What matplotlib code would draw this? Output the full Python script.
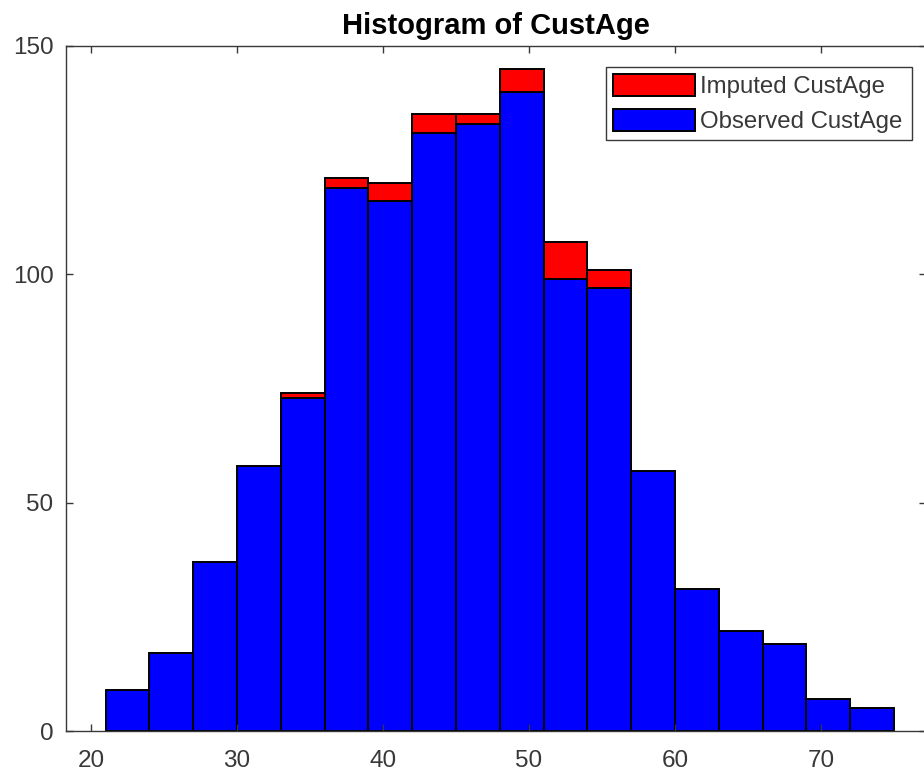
import matplotlib
matplotlib.use("Agg")
import matplotlib.pyplot as plt
from matplotlib.patches import Patch
import numpy as np

bin_edges = [21, 24, 27, 30, 33, 36, 39, 42, 45, 48, 51, 54, 57, 60, 63, 66, 69, 72, 75]
observed = [9, 17, 37, 58, 73, 119, 116, 131, 133, 140, 99, 97, 57, 31, 22, 19, 7, 5]
imputed = [0, 0, 0, 0, 1, 2, 4, 4, 2, 5, 8, 4, 0, 0, 0, 0, 0, 0]
xticks = [20, 30, 40, 50, 60, 70]
yticks = [0, 50, 100, 150]

plt.rcParams['font.family'] = ['Liberation Sans', 'DejaVu Sans']

fig = plt.figure(figsize=(9.24, 7.76), dpi=100)
W, H = 924, 776
ax_l, ax_r, ax_t, ax_b = 66, 926, 46, 731
ax = fig.add_axes([ax_l / W, (H - ax_b) / H, (ax_r - ax_l) / W, (ax_b - ax_t) / H])

lefts = np.array(bin_edges[:-1], dtype=float)
widths = np.diff(bin_edges)
obs = np.array(observed)
imp = np.array(imputed)

ax.bar(lefts, obs, width=widths, align='edge', color='#0000ff', edgecolor='black', linewidth=1.4)
mask = imp > 0
ax.bar(lefts[mask], imp[mask], width=widths[mask], bottom=obs[mask], align='edge',
       color='#ff0000', edgecolor='black', linewidth=1.4)

px_per_unit = 14.6
xmin = 20 - (91 - ax_l) / px_per_unit
xmax = xmin + (ax_r - ax_l) / px_per_unit
ax.set_xlim(xmin, xmax)
ax.set_ylim(0, 150)
ax.set_xticks(xticks)
ax.set_yticks(yticks)

ax.tick_params(direction='in', top=True, right=True, length=5, width=1,
               labelsize=17.5, colors='#383838')
ax.tick_params(axis='x', pad=14)
ax.tick_params(axis='y', pad=9)
for s in ax.spines.values():
    s.set_color('#383838')
    s.set_linewidth(1.0)

ax.set_title('Histogram of CustAge', fontsize=21, fontweight='bold', color='black', pad=9)

handles = [Patch(facecolor='#ff0000', edgecolor='black', linewidth=1.4),
           Patch(facecolor='#0000ff', edgecolor='black', linewidth=1.4)]
x0 = (606 - ax_l) / (ax_r - ax_l)
wl = (912 - 606) / (ax_r - ax_l)
ytop = (ax_b - 67) / (ax_b - ax_t)
leg = ax.legend(handles, ['Imputed CustAge', 'Observed CustAge'],
                loc='upper left', bbox_to_anchor=(x0, ytop - 0.2, wl, 0.2), mode='expand',
                borderaxespad=0, fontsize=17.3, fancybox=False, framealpha=1,
                edgecolor='#383838', handlelength=3.4, handleheight=1.0,
                handletextpad=0.2, labelspacing=0.45, borderpad=0.3)
leg.get_frame().set_linewidth(1.0)
for t in leg.get_texts():
    t.set_color('#383838')

fig.savefig('out.png', dpi=100)
